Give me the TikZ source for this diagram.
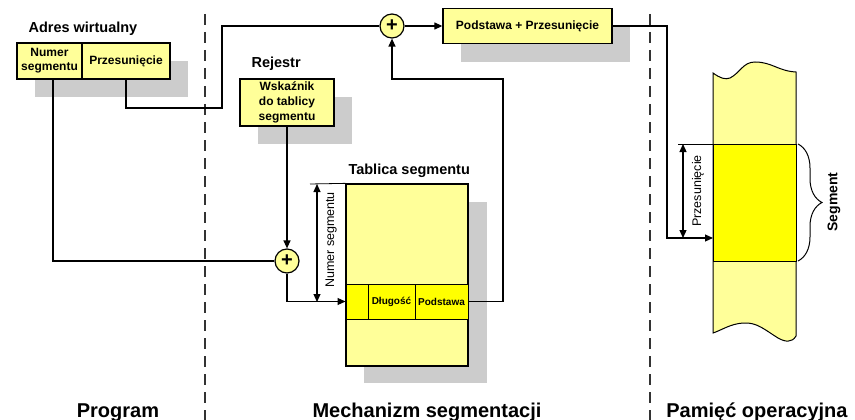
\documentclass[tikz,border=0pt]{standalone}
\usepackage{fontspec}
\setmainfont{Liberation Sans}
\usetikzlibrary{arrows.meta,decorations.pathreplacing,calc}
\definecolor{ly}{RGB}{255,255,153}
\definecolor{by}{RGB}{255,255,0}
\definecolor{sh}{RGB}{204,204,204}
\begin{document}
\begin{tikzpicture}[x=1pt,y=-1pt,
  box/.style={draw, line width=1.3pt, fill=ly, inner sep=0pt, align=center,
    font=\bfseries\fontsize{12}{14}\selectfont},
  cell/.style={draw, line width=1pt, fill=by, inner sep=0pt, align=center,
    font=\bfseries\fontsize{10}{12}\selectfont},
  shadowbox/.style={fill=sh, draw=none},
  conn/.style={line width=1.2pt},
  arr/.style={conn, -{Triangle[length=8pt,width=7pt]}},
  dimarr/.style={line width=1.2pt, {Triangle[length=8pt,width=7pt]}-{Triangle[length=8pt,width=7pt]}},
  sumnode/.style={circle, draw, line width=1.2pt, fill=ly, minimum size=24pt, inner sep=0pt,
    font=\bfseries\fontsize{20}{20}\selectfont},
  sepline/.style={line width=1.6pt, draw=black!80, dash pattern=on 11pt off 7pt},
  ttl/.style={font=\bfseries\fontsize{14.5}{16}\selectfont},
  big/.style={font=\bfseries\fontsize{20}{22}\selectfont},
  rotlbl/.style={rotate=90, font=\fontsize{12.5}{14}\selectfont}
]
\useasboundingbox (0,0) rectangle (855,420);

% separators
\draw[sepline] (205,14) -- (205,420);
\draw[sepline] (650,14) -- (650,420);

% shadows
\fill[sh] (35,61) rectangle (188,97);
\fill[sh] (258,97) rectangle (352,144);
\fill[sh] (461,26) rectangle (630,62);
\fill[sh] (364,202) rectangle (487,383);

% virtual address
\node[ttl, anchor=base west] (adrlbl) at (25,33) {Adres wirtualny};
\node[box, minimum width=65pt, minimum height=36pt] (numer) at (49.5,61) {Numer\\segmentu};
\node[box, minimum width=88pt, minimum height=36pt] (przes) at (126,61) {Przesunięcie};

% register
\node[ttl, anchor=base west] (rejlbl) at (248,68) {Rejestr};
\node[box, minimum width=94pt, minimum height=47pt, font=\bfseries\fontsize{12}{15}\selectfont] (rej) at (287,102.5) {Wskaźnik\\do tablicy\\segmentu};

% adders
\node[sumnode] (plus1) at (287,261) {+};
\node[sumnode] (plus2) at (392,26) {+};

% base + offset
\node[box, minimum width=169pt, minimum height=35pt] (pp) at (527.5,26) {Podstawa + Przesunięcie};

% segment table
\node[ttl, anchor=base west] (tablbl) at (345,174) {Tablica segmentu};
\node[box, minimum width=122pt, minimum height=182pt] (table) at (407,275) {};
\node[cell, minimum width=22pt, minimum height=35pt] (c0) at (357,301.5) {};
\node[cell, minimum width=47pt, minimum height=35pt] (c1) at (391.5,301.5) {Długość};
\node[cell, minimum width=53pt, minimum height=35pt] (c2) at (441.5,301.5) {Podstawa};

% dimension: numer segmentu
\draw[line width=0.8pt] (310,184) -- (table.north west);
\draw[dimarr] (317,184) -- (317,302);
\node[rotlbl] (nslbl) at (331,240) {Numer segmentu};

% memory column
\draw[line width=1pt, fill=ly] (713,73) .. controls (720,78) and (725,80) .. (730,78)
  .. controls (740,73) and (743,62) .. (755,62)
  .. controls (772,62) and (778,71) .. (796,72)
  -- (796,336)
  .. controls (792,343) and (785,342) .. (778,338)
  .. controls (765,330) and (757,322) .. (743,323)
  .. controls (730,324) and (722,330) .. (713,333) -- cycle;
\draw[line width=1pt, fill=by] (713,144) rectangle (796,261);
\coordinate (mp) at (713,238);

% dimension: przesuniecie
\draw[line width=0.8pt] (678,144) -- (713,144);
\draw[dimarr] (683,144) -- (683,238);
\node[rotlbl] (prlbl) at (698,191) {Przesunięcie};

% brace
\draw[line width=1pt, decorate, decoration={brace, amplitude=24pt}] (798,144) -- (798,261);
\node[rotate=90, font=\bfseries\fontsize{14}{16}\selectfont] (seglbl) at (834,202) {Segment};

% connectors
\draw[conn] ([xshift=3.5pt]numer.south) |- (plus1.west);
\draw[conn] (przes.south) |- (222,108) |- (plus2.west);
\draw[arr] (rej.south) -- (plus1.north);
\draw[arr] (plus1.south) |- (c0.west);
\draw[arr] (c2.east) -| (503,79) -| (plus2.south);
\draw[arr] (plus2.east) -- (pp.west);
\draw[arr] (pp.east) -| (667,238) -- (mp);

% bottom labels
\node[big, anchor=base] (l1) at (118,417) {Program};
\node[big, anchor=base] (l2) at (427,417) {Mechanizm segmentacji};
\node[big, anchor=base] (l3) at (757,417) {Pamięć operacyjna};
\end{tikzpicture}
\end{document}
